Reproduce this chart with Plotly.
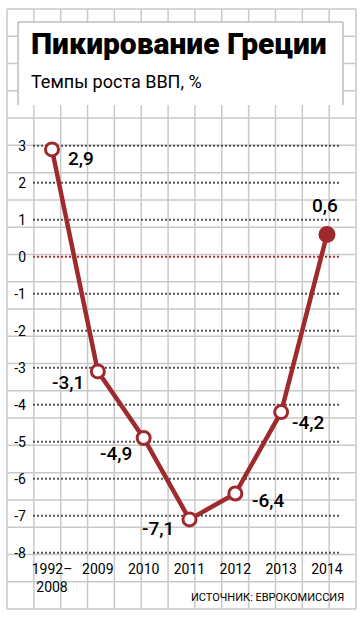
import plotly.graph_objects as go

# ---- data ----
categories = ["1992–<br>2008", "2009", "2010", "2011", "2012", "2013", "2014"]
gdp_growth = [2.9, -3.1, -4.9, -7.1, -6.4, -4.2, 0.6]
y_ticks = [3, 2, 1, 0, -1, -2, -3, -4, -5, -6, -7, -8]
title_text = "Пикирование Греции"
subtitle_text = "Темпы роста ВВП, %"
source_text = "ИСТОЧНИК: ЕВРОКОМИССИЯ"

# ---- style ----
W, H = 364, 621
RED = "#9e2a2e"
GRID = "#c9c9c9"
FONT = "Roboto"
DOTS = "2px,2px"
# chart plot area (pixels)
CL, CR, CT, CB = 33, 340, 112, 557
# graph paper frame (pixels)
GL, GR, GT, GB = 7, 356, 9, 609
N_COLS, N_ROWS = 13, 22


def fx(p):
    return p / W


def fy(p):
    return 1 - p / H


x_idx = list(range(len(categories)))
y_top_val = 3 + (145.7 - CT) / 37.0
y_bot_val = -8 - (CB - 552.7) / 37.0
x_lo = (CL - 52) / 45.83
x_hi = (CR - 52) / 45.83

fig = go.Figure()

# graph-paper background (full-figure helper axes in pixel units)
gx, gy = [], []
for k in range(N_COLS + 1):
    xx = GL + k * (GR - GL) / N_COLS
    gx += [xx, xx, None]
    gy += [GT, GB, None]
for k in range(N_ROWS + 1):
    yy = GT + k * (GB - GT) / N_ROWS
    gx += [GL, GR, None]
    gy += [yy, yy, None]
fig.add_trace(go.Scatter(x=gx, y=gy, mode="lines", xaxis="x", yaxis="y",
                         line=dict(color=GRID, width=1.5), hoverinfo="skip"))

# dotted value grid lines
dx, dy = [], []
for t in y_ticks:
    if t != 0:
        dx += [x_lo, x_hi, None]
        dy += [t, t, None]
fig.add_trace(go.Scatter(x=dx, y=dy, mode="lines", xaxis="x2", yaxis="y2",
                         line=dict(color="#555555", width=2, dash=DOTS), hoverinfo="skip"))
fig.add_trace(go.Scatter(x=[x_lo, x_hi], y=[0, 0], mode="lines", xaxis="x2", yaxis="y2",
                         line=dict(color="#c0282e", width=2, dash=DOTS), hoverinfo="skip"))

# data
fig.add_trace(go.Scatter(
    x=x_idx, y=gdp_growth, mode="lines", xaxis="x2", yaxis="y2",
    line=dict(color=RED, width=4.5), hoverinfo="skip", cliponaxis=False))
fig.add_trace(go.Scatter(
    x=x_idx[:-1], y=gdp_growth[:-1], mode="markers", xaxis="x2", yaxis="y2",
    marker=dict(size=13, color="white", line=dict(color=RED, width=3)),
    hoverinfo="skip", cliponaxis=False))
fig.add_trace(go.Scatter(
    x=x_idx[-1:], y=gdp_growth[-1:], mode="markers", xaxis="x2", yaxis="y2",
    marker=dict(size=17, color=RED, line=dict(color=RED, width=0)),
    hoverinfo="skip", cliponaxis=False))

shapes = []
# white title box (covers graph paper)
shapes.append(dict(type="rect", xref="paper", yref="paper", x0=fx(17.5), x1=fx(343.5),
                   y0=fy(105), y1=fy(22), fillcolor="white", line=dict(width=0), layer="above"))
for (a, b, c, d) in [(18, 105, 18, 22), (18, 22, 343, 22), (343, 22, 343, 105)]:
    shapes.append(dict(type="line", xref="paper", yref="paper", x0=fx(a), x1=fx(c),
                       y0=fy(b), y1=fy(d), line=dict(color="#bdbdbd", width=1.5), layer="above"))

# data labels: (xanchor, xshift, yshift)
label_pos = [("left", 14, -9), ("right", -12, -11.5), ("right", -10, -15.5),
             ("right", -13, -9), ("left", 15, -6.5), ("left", 9, -10.5), ("center", -2, 29)]
annotations = []
for i, v, (xa, xs, ys) in zip(x_idx, gdp_growth, label_pos):
    annotations.append(dict(x=i, y=v, xref="x2", yref="y2", text=f"{v:.1f}".replace(".", ","),
                            showarrow=False, xanchor=xa, yanchor="middle", xshift=xs, yshift=ys,
                            font=dict(family=FONT, size=19, color="black", weight=500)))

annotations.append(dict(x=fx(29), y=fy(44), xref="paper", yref="paper", text=title_text,
                        showarrow=False, xanchor="left", yanchor="middle",
                        font=dict(family=FONT, size=30, color="black", weight=900)))
annotations.append(dict(x=fx(29), y=fy(81), xref="paper", yref="paper", text=subtitle_text,
                        showarrow=False, xanchor="left", yanchor="middle",
                        font=dict(family=FONT, size=18, color="black", weight=400)))
annotations.append(dict(x=fx(346), y=fy(597), xref="paper", yref="paper", text=source_text,
                        showarrow=False, xanchor="right", yanchor="middle",
                        font=dict(family=FONT, size=11, color="black")))

fig.update_layout(
    width=W, height=H, margin=dict(l=0, r=0, t=0, b=0),
    paper_bgcolor="white", plot_bgcolor="rgba(0,0,0,0)",
    showlegend=False, shapes=shapes, annotations=annotations,
    xaxis=dict(domain=[0, 1], range=[0, W], visible=False, anchor="y",
               fixedrange=True, automargin=False),
    yaxis=dict(domain=[0, 1], range=[H, 0], visible=False, anchor="x",
               fixedrange=True, automargin=False),
    xaxis2=dict(domain=[fx(CL), fx(CR)], range=[x_lo, x_hi], anchor="y2",
                tickvals=x_idx, ticktext=categories,
                showgrid=False, zeroline=False, showline=False, ticks="",
                tickfont=dict(family=FONT, size=14, color="black"),
                ticklabelstandoff=2, fixedrange=True, automargin=False),
    yaxis2=dict(domain=[fy(CB), fy(CT)], range=[y_bot_val, y_top_val], anchor="x2",
                tickvals=y_ticks, ticktext=[str(v) for v in y_ticks],
                showgrid=False, zeroline=False, showline=False, ticks="",
                tickfont=dict(family=FONT, size=14, color="black"),
                ticklabelstandoff=6, fixedrange=True, automargin=False),
)

fig.write_html("out.html")
